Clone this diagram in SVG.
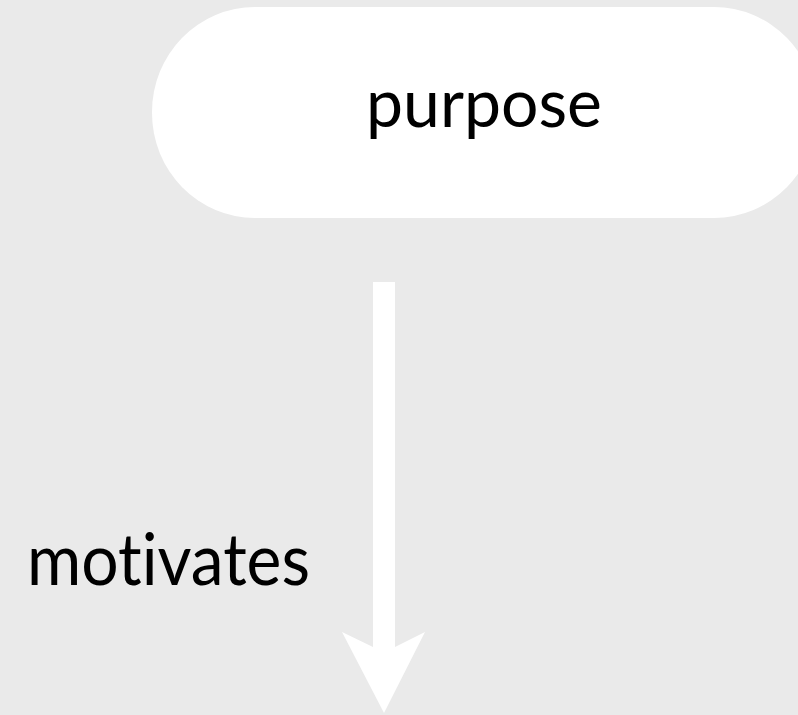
<svg xmlns="http://www.w3.org/2000/svg" width="798" height="715" viewBox="0 0 798 715">
<style>
.lbl{font-family:Lato,"Open Sans","Liberation Sans",sans-serif;fill:#000;font-variant-ligatures:none;font-feature-settings:"liga" 0,"clig" 0}
</style>
<rect x="0" y="0" width="798" height="715" fill="#eaeaea"/>
<g id="node-purpose">
<rect x="152" y="7" width="665" height="211" rx="103" ry="105" fill="#ffffff"/>
<text class="lbl" x="484" y="127" font-size="68" text-anchor="middle" textLength="236" lengthAdjust="spacingAndGlyphs">purpose</text>
</g>
<g id="connectors">
<rect x="373" y="282" width="22" height="370" fill="#ffffff"/>
<polygon points="342,632 384,713 425,632 395,647 373,647" fill="#ffffff"/>
<text class="lbl" x="27" y="585" font-size="72" textLength="283" lengthAdjust="spacingAndGlyphs">motivates</text>
</g>
</svg>
